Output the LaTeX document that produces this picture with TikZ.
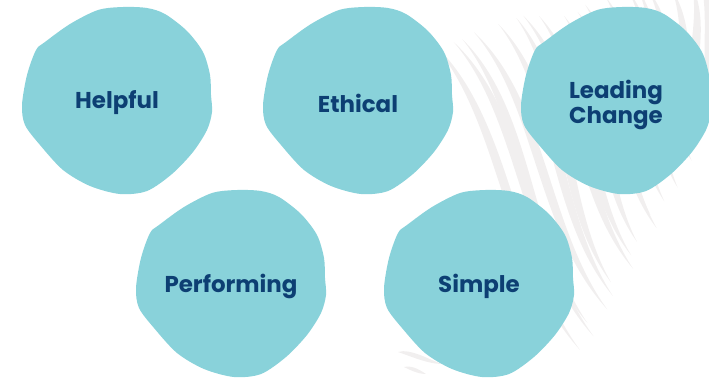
\documentclass[tikz,border=0pt]{standalone}
\usepackage{fontspec}
\setmainfont{Poppins}
\definecolor{blobteal}{HTML}{89D2DA}
\definecolor{labelnavy}{HTML}{0D3F73}
\definecolor{stripegrey}{HTML}{F1EFEF}
\begin{document}
\begin{tikzpicture}[x=1bp,y=-1bp,
  blobfill/.style={fill=blobteal},
  wordstyle/.style={font=\fontsize{23}{26}\selectfont\bfseries, text=labelnavy, align=center, inner sep=0pt},
  stripefill/.style={fill=stripegrey}]
\useasboundingbox (0,0) rectangle (709,377);
\clip (0,0) rectangle (709,377);
% wavy grey background stripes: S-shaped tapered strokes
\foreach \t in {0,1,...,17} {
  \pgfmathsetmacro\sx{432+270*\t/17+6*sin(\t*97)}
  \pgfmathsetmacro\sy{42-65*\t/17+5*sin(\t*53)}
  \pgfmathsetmacro\ex{580+130*\t/17+8*sin(\t*131)}
  \pgfmathsetmacro\ey{350-230*\t/17}
  \pgfmathsetmacro\ang{atan2(\ey-\sy,\ex-\sx)}
  \pgfmathsetmacro\len{veclen(\ex-\sx,\ey-\sy)}
  \fill[stripefill, shift={(\sx,\sy)}, rotate=-\ang]
    (0,0) .. controls (0.3*\len,-0.1*\len-6) and (0.67*\len,0.08*\len-6) .. (\len,0)
          .. controls (0.67*\len,0.08*\len+6) and (0.3*\len,-0.1*\len+6) .. (0,0);
}
\fill[stripefill] (398,352) .. controls (410,348) and (430,360) .. (442,364)
  .. controls (428,364) and (410,356) .. (398,352);
\fill[stripefill] (404,367) .. controls (412,365) and (420,370) .. (426,374)
  .. controls (418,374) and (410,370) .. (404,367);
% blobs
\foreach \cx/\cy in {117/100, 358/100, 616/100, 231/283, 479/283} {
  \fill[blobfill, shift={(\cx,\cy)}] plot[smooth cycle] coordinates {
    (6,-93) (30,-92) (48,-86) (70,-69) (86,-48) (93,-25) (94,-5) (95,12)
    (90,30) (76,52) (55,74) (30,91) (3,94) (-27,86) (-54,70) (-77,45)
    (-92,25) (-95,5) (-90,-25) (-81,-50) (-72,-58) (-47,-76) (-19,-90)};
}
% labels
\node[wordstyle] (helpful) at (117,103) {Helpful};
\node[wordstyle] (ethical) at (358,103) {Ethical};
\node[wordstyle] (leading) at (616,105) {Leading\\Change};
\node[wordstyle] (performing) at (231,286) {Performing};
\node[wordstyle] (simple) at (479,286) {Simple};
\end{tikzpicture}
\end{document}
